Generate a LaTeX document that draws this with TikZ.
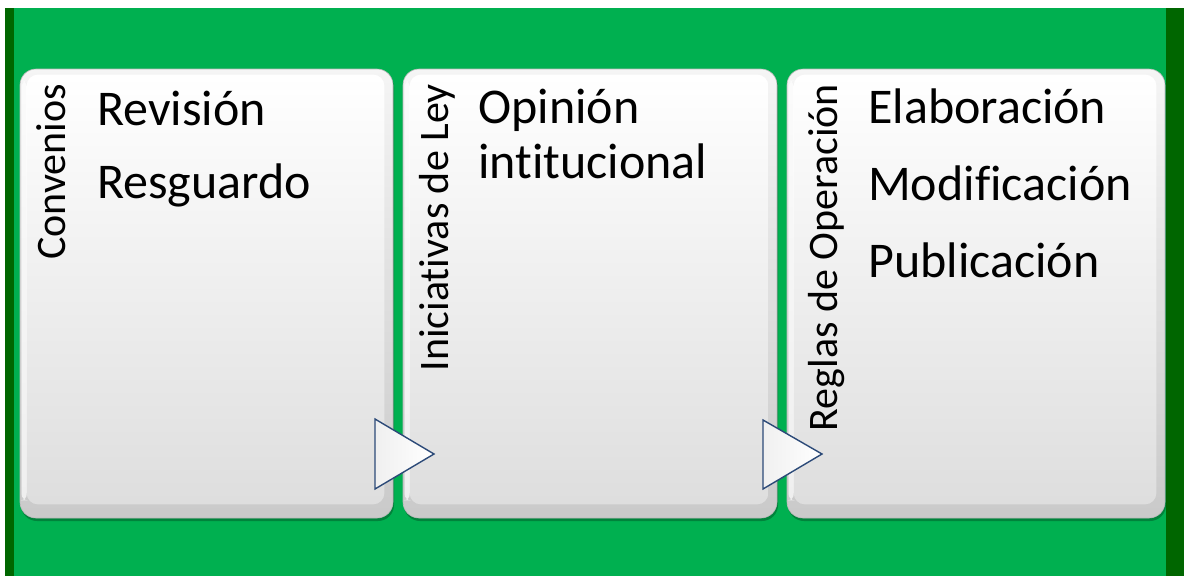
\documentclass[tikz,border=0pt]{standalone}
\usepackage{fontspec}
\setmainfont[RawFeature={-liga}]{Carlito}
\definecolor{bggreen}{HTML}{00B050}
\definecolor{darkgreen}{HTML}{006600}
\definecolor{navy}{HTML}{2C4A78}
\tikzset{
  box/.style={rectangle, rounded corners=16pt, inner sep=0pt, minimum height=449pt,
    top color=gray!8, bottom color=gray!42, draw=gray!55, line width=0.6pt},
  inner/.style={rounded corners=11pt, top color=white, bottom color=gray!26},
  side/.style={rotate=90, anchor=base east, inner sep=0pt, font=\fontsize{42}{46}\selectfont},
  item/.style={anchor=base west, inner sep=0pt, font=\fontsize{50}{55}\selectfont},
  arrowtri/.style={draw=navy, line width=1.4pt, line join=miter, left color=gray!12, right color=white}
}
\begin{document}
\begin{tikzpicture}[x=1pt,y=-1pt]
\useasboundingbox (0,0) rectangle (1184,576);
\fill[white] (0,0) rectangle (1184,576);
\fill[darkgreen] (5,8) rectangle (14,576);
\fill[bggreen] (14,8) rectangle (1166,576);
\fill[darkgreen] (1166,8) rectangle (1184,576);
% shadows
\foreach \a/\b in {20/393,403/777,787/1165}{
  \fill[black,opacity=0.25,rounded corners=16pt] (\a+1,71) rectangle (\b+1,521);
}
% boxes
\node[box, minimum width=373pt] (b1) at (206.5,293.5) {};
\node[box, minimum width=374pt] (b2) at (590,293.5) {};
\node[box, minimum width=378pt] (b3) at (976,293.5) {};
\foreach \n in {b1,b2,b3}{
  \path[inner] ([shift={(7,6)}]\n.north west) rectangle ([shift={(-9,-14)}]\n.south east);
  \fill[white,opacity=0.7,rounded corners=6pt] ([shift={(2,12)}]\n.north west) rectangle ([shift={(7,-18)}]\n.south west);
}
% arrows
\path[arrowtri] (375,419) -- (434,454) -- (375,489) -- cycle;
\path[arrowtri] (763,420) -- (822,454) -- (763,489) -- cycle;
% vertical labels
\node[side] (l1) at (65,84) {Convenios};
\node[side] (l2) at (448,84) {Iniciativas de Ley};
\node[side] (l3) at (837,84) {Reglas de Operación};
% items
\node[item] (r1) at (97,125) {Revisión};
\node[item] (r2) at (97,198) {Resguardo};
\node[item] (o1) at (478,123) {Opinión};
\node[item] (o2) at (478,178) {intitucional};
\node[item] (e1) at (868,123) {Elaboración};
\node[item] (e2) at (868,200) {Modificación};
\node[item] (e3) at (868,277) {Publicación};
\end{tikzpicture}
\end{document}
